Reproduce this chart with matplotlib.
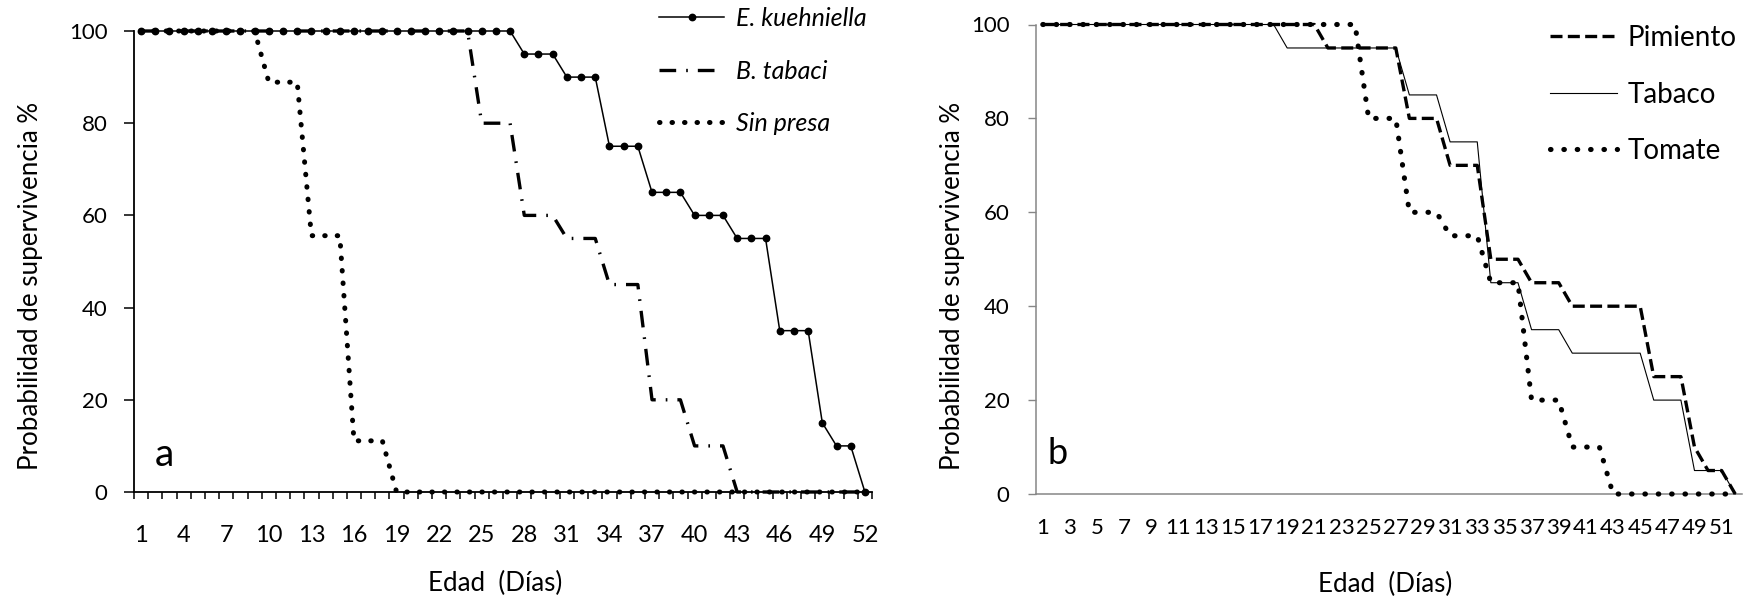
import matplotlib
matplotlib.use("Agg")
import matplotlib.pyplot as plt
import numpy as np

plt.rcParams['font.family'] = ['Lato', 'DejaVu Sans']

# ---------------- data ----------------
days = list(range(1, 53))

# panel a
e_kuehniella = [100, 100, 100, 100, 100, 100, 100, 100, 100, 100,
                100, 100, 100, 100, 100, 100, 100, 100, 100, 100,
                100, 100, 100, 100, 100, 100, 100, 95, 95, 95,
                90, 90, 90, 75, 75, 75, 65, 65, 65, 60,
                60, 60, 55, 55, 55, 35, 35, 35, 15, 10,
                10, 0]
b_tabaci = [100, 100, 100, 100, 100, 100, 100, 100, 100, 100,
            100, 100, 100, 100, 100, 100, 100, 100, 100, 100,
            100, 100, 100, 100, 80, 80, 80, 60, 60, 60,
            55, 55, 55, 45, 45, 45, 20, 20, 20, 10,
            10, 10, 0, 0, 0, 0, 0, 0, 0, 0,
            0, 0]
sin_presa = [100, 100, 100, 100, 100, 100, 100, 100, 100, 88.9,
             88.9, 88.9, 55.6, 55.6, 55.6, 11.1, 11.1, 11.1, 0, 0,
             0, 0, 0, 0, 0, 0, 0, 0, 0, 0,
             0, 0, 0, 0, 0, 0, 0, 0, 0, 0,
             0, 0, 0, 0, 0, 0, 0, 0, 0, 0,
             0, 0]

# panel b
pimiento = [100, 100, 100, 100, 100, 100, 100, 100, 100, 100,
            100, 100, 100, 100, 100, 100, 100, 100, 100, 100,
            100, 95, 95, 95, 95, 95, 95, 80, 80, 80,
            70, 70, 70, 50, 50, 50, 45, 45, 45, 40,
            40, 40, 40, 40, 40, 25, 25, 25, 10, 5,
            5, 0]
tabaco = [100, 100, 100, 100, 100, 100, 100, 100, 100, 100,
          100, 100, 100, 100, 100, 100, 100, 100, 95, 95,
          95, 95, 95, 95, 95, 95, 95, 85, 85, 85,
          75, 75, 75, 45, 45, 45, 35, 35, 35, 30,
          30, 30, 30, 30, 30, 20, 20, 20, 5, 5,
          5, 0]
tomate = [100, 100, 100, 100, 100, 100, 100, 100, 100, 100,
          100, 100, 100, 100, 100, 100, 100, 100, 100, 100,
          100, 100, 100, 100, 80, 80, 80, 60, 60, 60,
          55, 55, 55, 45, 45, 45, 20, 20, 20, 10,
          10, 10, 0, 0, 0, 0, 0, 0, 0, 0,
          0, 0]

labels_a = ["E. kuehniella", "B. tabaci", "Sin presa"]
labels_b = ["Pimiento", "Tabaco", "Tomate"]
yticks = [0, 20, 40, 60, 80, 100]
xtick_a = days[::3]
xtick_b = days[:51:2]

W, H = 1752, 597
fig = plt.figure(figsize=(W / 100, H / 100), dpi=100)

# ---------------- panel a ----------------
ax1 = fig.add_axes([134 / W, 1 - 492 / H, (872 - 134) / W, (492 - 31) / H])
ax1.plot(days, e_kuehniella, color='black', lw=1.1, marker='o', ms=4.6,
         clip_on=False, zorder=4, label=labels_a[0])
ax1.plot(days, b_tabaci, color='black', lw=2.4, dashes=(5, 3, 0.5, 3),
         dash_capstyle='butt', clip_on=False, zorder=3, label=labels_a[1])
ax1.plot(days, sin_presa, color='black', lw=3.6, dashes=(0.1, 2.4),
         dash_capstyle='round', clip_on=False, zorder=3, label=labels_a[2])

ax1.set_xlim(0.5, 52.5)
ax1.set_ylim(0, 100)
ax1.set_yticks(yticks)
ax1.set_xticks(xtick_a)
ax1.set_xticklabels([str(d) for d in xtick_a])
ax1.set_xticks(np.arange(0.5, 53, 1), minor=True)
ax1.tick_params(axis='x', which='major', length=0, pad=24, labelsize=17)
ax1.tick_params(axis='x', which='minor', length=5, width=1.1, direction='out')
ax1.tick_params(axis='y', length=7, width=1.1, direction='out', pad=12, labelsize=16)
for s in ['top', 'right']:
    ax1.spines[s].set_visible(False)
for s in ['left', 'bottom']:
    ax1.spines[s].set_linewidth(1.3)
    ax1.spines[s].set_color('black')
ax1.set_ylabel('Probabilidad de supervivencia %', fontsize=18.6)
ax1.yaxis.set_label_coords(-0.123, 0.447)
ax1.set_xlabel('Edad  (Días)', fontsize=18.6)
ax1.xaxis.set_label_coords(0.489, -0.172)
ax1.text(0.028, 0.08, 'a', transform=ax1.transAxes, fontsize=28,
         ha='left', va='center')
leg1 = ax1.legend(loc='upper left', bbox_to_anchor=(659 / W, 0.988),
                  bbox_transform=fig.transFigure, frameon=False,
                  handlelength=2.6, handletextpad=0.5, labelspacing=1.18,
                  borderpad=0, borderaxespad=0, numpoints=1,
                  prop={'size': 18, 'style': 'italic'})

# ---------------- panel b ----------------
ax2 = fig.add_axes([1036 / W, 1 - 494 / H, (1742 - 1036) / W, (494 - 24.5) / H])
ax2.plot(days, pimiento, color='black', lw=2.4, dashes=(3.6, 1.6),
         dash_capstyle='butt', clip_on=False, zorder=3, label=labels_b[0])
ax2.plot(days, tabaco, color='black', lw=0.8, clip_on=False, zorder=4,
         label=labels_b[1])
ax2.plot(days, tomate, color='black', lw=3.7, dashes=(0.1, 2.5),
         dash_capstyle='round', clip_on=False, zorder=3, label=labels_b[2])
ax2.set_xlim(0.5, 52.5)
ax2.set_ylim(0, 100)
ax2.set_yticks(yticks)
ax2.set_xticks(xtick_b)
ax2.set_xticklabels([str(d) for d in xtick_b])
ax2.tick_params(axis='x', length=0, pad=17, labelsize=16)
ax2.tick_params(axis='y', length=6, width=1, color='#868686', direction='out',
                pad=13, labelsize=16)
for s in ['top', 'right']:
    ax2.spines[s].set_visible(False)
for s in ['left', 'bottom']:
    ax2.spines[s].set_linewidth(1.1)
    ax2.spines[s].set_color('#868686')
ax2.set_ylabel('Probabilidad de supervivencia %', fontsize=18.6)
ax2.yaxis.set_label_coords(-0.101, 0.443)
ax2.set_xlabel('Edad  (Días)', fontsize=18.6)
ax2.xaxis.set_label_coords(0.494, -0.165)
ax2.text(0.016, 0.087, 'b', transform=ax2.transAxes, fontsize=26,
         ha='left', va='center')
leg2 = ax2.legend(loc='upper left', bbox_to_anchor=(1550 / W, 0.958),
                  bbox_transform=fig.transFigure, frameon=False,
                  handlelength=2.4, handletextpad=0.4, labelspacing=1.1,
                  borderpad=0, borderaxespad=0, prop={'size': 20})

fig.savefig('out.png', dpi=100, facecolor='white')
